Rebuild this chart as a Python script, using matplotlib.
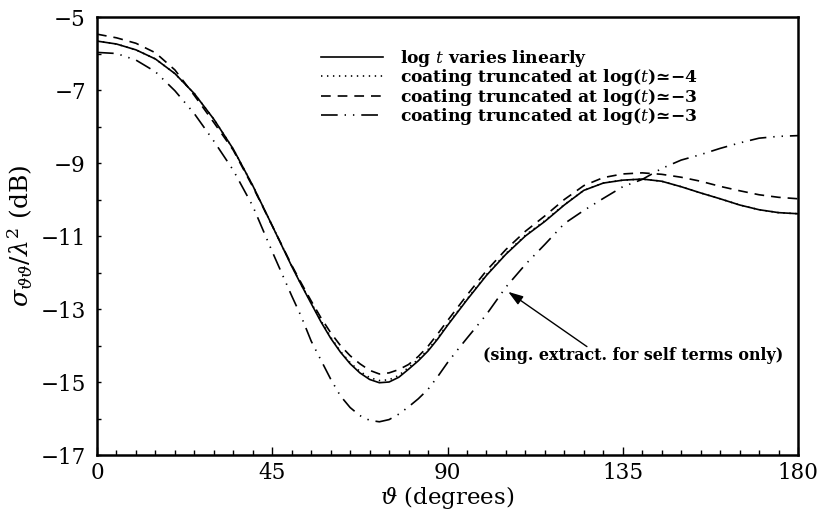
import matplotlib
matplotlib.use("Agg")
import matplotlib.pyplot as plt
from matplotlib.ticker import MultipleLocator

# ---- data ----
theta = [0, 5, 10, 15, 20, 25, 30, 35, 40, 45,
         50, 52.5, 55, 57.5, 60, 62.5, 65, 67.5, 70, 72.5, 75, 77.5,
         80, 82.5, 85, 87.5, 90, 92.5, 95,
         100, 105, 110, 115, 120, 125, 130, 135, 140, 145,
         150, 155, 160, 165, 170, 175, 180]

log_linear = [-5.66, -5.74, -5.90, -6.15, -6.55, -7.10, -7.80, -8.62, -9.62, -10.72,
              -11.83, -12.35, -12.85, -13.35, -13.80, -14.18, -14.50, -14.75, -14.93,
              -15.02, -15.00, -14.87, -14.65, -14.42, -14.15, -13.82, -13.45, -13.10,
              -12.75,
              -12.08, -11.50, -11.00, -10.60, -10.15, -9.75, -9.55, -9.47, -9.44, -9.50,
              -9.65, -9.82, -9.98, -10.15, -10.28, -10.36, -10.39]

trunc_m4 = [-5.66, -5.74, -5.90, -6.15, -6.55, -7.10, -7.80, -8.62, -9.62, -10.72,
            -11.82, -12.34, -12.83, -13.32, -13.77, -14.16, -14.47, -14.71, -14.88,
            -14.96, -14.94, -14.82, -14.60, -14.38, -14.11, -13.79, -13.42, -13.08,
            -12.73,
            -12.06, -11.48, -10.98, -10.58, -10.14, -9.75, -9.55, -9.47, -9.44, -9.50,
            -9.65, -9.82, -9.98, -10.15, -10.28, -10.36, -10.39]

trunc_m3 = [-5.47, -5.57, -5.72, -5.98, -6.45, -7.15, -7.89, -8.65, -9.65, -10.72,
            -11.80, -12.30, -12.78, -13.24, -13.65, -14.00, -14.28, -14.50, -14.68,
            -14.78, -14.75, -14.66, -14.52, -14.30, -14.02, -13.68, -13.32, -12.97,
            -12.62,
            -11.95, -11.37, -10.87, -10.45, -10.00, -9.62, -9.40, -9.30, -9.27, -9.31,
            -9.39, -9.50, -9.64, -9.76, -9.87, -9.94, -9.98]

trunc_m3_self = [-5.97, -6.00, -6.18, -6.50, -7.02, -7.65, -8.40, -9.20, -10.18, -11.43,
                 -12.64, -13.22, -13.88, -14.40, -14.92, -15.38, -15.70, -15.92, -16.05,
                 -16.09, -16.03, -15.88, -15.68, -15.46, -15.20, -14.85, -14.47, -14.13,
                 -13.80,
                 -13.15, -12.40, -11.78, -11.23, -10.66, -10.30, -9.97, -9.65, -9.45,
                 -9.15, -8.92, -8.77, -8.60, -8.45, -8.32, -8.27, -8.25]

labels = [r"log $t$ varies linearly",
          "coating truncated at log($t$)\u2243\u22124",
          "coating truncated at log($t$)\u2243\u22123",
          "coating truncated at log($t$)\u2243\u22123"]

x_ticks = [0, 45, 90, 135, 180]
y_ticks = [-5, -7, -9, -11, -13, -15, -17]
annotation = "(sing. extract. for self terms only)"

# ---- style ----
plt.rcParams['font.family'] = ['DejaVu Serif', 'DejaVu Sans']
plt.rcParams['mathtext.fontset'] = 'dejavuserif'
plt.rcParams['lines.scale_dashes'] = False

fig = plt.figure(figsize=(8.19, 5.15), dpi=100)
ax = fig.add_axes([97/819, 1 - 455/515, (798 - 97)/819, (455 - 17)/515])

lw = 1.2
ax.plot(theta, log_linear, color='black', lw=lw, label=labels[0])
ax.plot(theta, trunc_m4, color='black', lw=lw, linestyle=(0, (1.0, 3.3)), label=labels[1])
ax.plot(theta, trunc_m3, color='black', lw=lw, linestyle=(0, (7, 5)), label=labels[2])
ax.plot(theta, trunc_m3_self, color='black', lw=lw,
        linestyle=(0, (12, 5, 1, 5, 1, 5)), label=labels[3])

ax.set_xlim(0, 180)
ax.set_ylim(-17, -5)
ax.set_xticks(x_ticks)
ax.set_yticks(y_ticks)
ax.set_yticklabels([f"\u2212{abs(v)}" for v in y_ticks])
ax.xaxis.set_minor_locator(MultipleLocator(5))
ax.yaxis.set_minor_locator(MultipleLocator(1))
ax.tick_params(axis='both', which='both', direction='in', top=False, right=False,
               labelsize=15.5, width=1.0)
ax.tick_params(axis='x', which='major', length=6, pad=5)
ax.tick_params(axis='x', which='minor', length=3.5)
ax.tick_params(axis='y', which='both', length=3, pad=8)
for s in ax.spines.values():
    s.set_linewidth(1.8)

ax.set_xlabel(r"$\vartheta$ (degrees)", fontsize=16.5, labelpad=0)
ax.set_ylabel(r"$\sigma_{\vartheta\vartheta}/\lambda^2$ (dB)", fontsize=18, labelpad=4)

leg = ax.legend(loc='upper left', bbox_to_anchor=(321/819, 1 - 48/515),
                bbox_transform=fig.transFigure, frameon=False, fontsize=12.3,
                handlelength=3.6, handletextpad=1.0, labelspacing=-0.1,
                borderpad=0, borderaxespad=0)
for t in leg.get_texts():
    t.set_fontweight('bold')

ax.annotate("", xy=(105.6, -12.53), xytext=(125.8, -14.03),
            arrowprops=dict(arrowstyle='-|>,head_length=0.9,head_width=0.3',
                        color='black', lw=1.0, shrinkA=0, shrinkB=0))
ax.text(137.7, -14.28, annotation, ha='center', va='center', fontsize=11.4,
        fontweight='bold')

fig.savefig("out.png", dpi=100)
